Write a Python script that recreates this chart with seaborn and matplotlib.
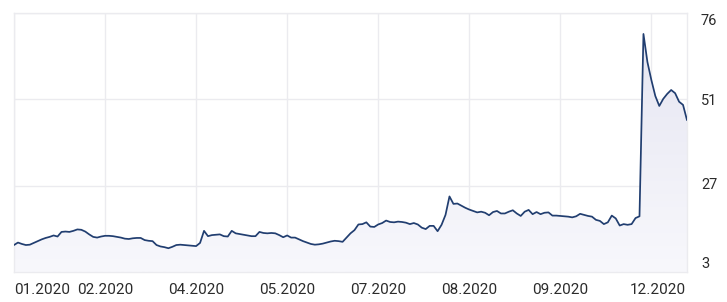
import numpy as np
import pandas as pd
import matplotlib
matplotlib.use("Agg")
import matplotlib.pyplot as plt
import seaborn as sns
from matplotlib.transforms import ScaledTranslation
from matplotlib.colors import LinearSegmentedColormap

# ---- data ----
values = [
    10.6, 11.3, 10.9, 10.6, 10.7, 11.2, 11.7, 12.2, 12.6, 12.9,
    13.3, 13.0, 14.3, 14.4, 14.3, 14.6, 15.0, 14.9, 14.4, 13.6,
    12.9, 12.7, 13.0, 13.2, 13.2, 13.1, 12.9, 12.7, 12.4, 12.3,
    12.5, 12.6, 12.6, 12.0, 11.8, 11.7, 10.6, 10.2, 10.0, 9.7,
    10.1, 10.6, 10.7, 10.6, 10.5, 10.4, 10.3, 11.2, 14.6, 13.1,
    13.4, 13.5, 13.6, 13.1, 13.0, 14.6, 13.9, 13.7, 13.5, 13.3,
    13.1, 13.1, 14.3, 14.0, 13.9, 14.0, 13.9, 13.4, 12.8, 13.3,
    12.7, 12.7, 12.2, 11.7, 11.3, 10.9, 10.7, 10.8, 11.0, 11.3,
    11.6, 11.8, 11.7, 11.5, 12.7, 13.9, 14.8, 16.4, 16.5, 17.0,
    15.8, 15.7, 16.4, 16.8, 17.5, 17.1, 17.0, 17.2, 17.1, 16.9,
    16.5, 16.8, 16.4, 15.5, 15.1, 16.0, 16.0, 14.5, 16.3, 19.1,
    24.3, 22.2, 22.3, 21.7, 21.1, 20.6, 20.2, 19.8, 20.0, 19.7,
    19.0, 19.9, 20.2, 19.5, 19.5, 20.0, 20.4, 19.5, 18.8, 20.0,
    20.5, 19.3, 19.9, 19.3, 19.7, 19.8, 18.9, 18.9, 18.8, 18.7,
    18.6, 18.4, 18.7, 19.4, 19.1, 18.8, 18.6, 17.7, 17.4, 16.5,
    17.0, 18.9, 18.1, 16.1, 16.5, 16.3, 16.5, 18.2, 18.7, 70.1,
    62.2, 57.1, 52.6, 49.8, 51.8, 53.2, 54.3, 53.4, 51.0, 50.1,
    45.8,
]
x_tick_labels = ["01.2020", "02.2020", "04.2020", "05.2020",
                 "07.2020", "08.2020", "09.2020", "12.2020"]
x_tick_step = 23
y_ticks = [3, 27.33, 51.67, 76]
y_tick_labels = ["3", "27", "51", "76"]

# ---- style ----
sns.set_theme(style="white")
plt.rcParams['font.family'] = ['Roboto', 'DejaVu Sans']

W, H = 727, 302
fig = plt.figure(figsize=(W / 100, H / 100), dpi=100)
ax = fig.add_axes([14 / W, 1 - 272 / H, (687 - 14) / W, (272 - 13) / H])

n = len(values)
df = pd.DataFrame({"i": np.arange(n), "v": values})

line_color = "#213e70"
grid_color = "#ebebef"
text_color = "#2b2b2b"

# gradient fill under the line
poly = ax.fill_between(df["i"], df["v"], y_ticks[0], color="none", lw=0)
cmap = LinearSegmentedColormap.from_list("g", ["#f8f8fc", "#e4e4f1"])
img = ax.imshow(np.linspace(1, 0, 256).reshape(-1, 1), cmap=cmap,
                extent=[0, n - 1, y_ticks[0], y_ticks[-1]], aspect="auto",
                zorder=1, interpolation="bilinear")
img.set_clip_path(poly.get_paths()[0], transform=ax.transData)

sns.lineplot(data=df, x="i", y="v", ax=ax, color=line_color,
             linewidth=1.25, zorder=3)

ax.set_xlim(0, n - 1)
ax.set_ylim(y_ticks[0], y_ticks[-1])
ax.set_xlabel("")
ax.set_ylabel("")

# x ticks
xt = [k * x_tick_step for k in range(len(x_tick_labels))]
ax.set_xticks(xt)
ax.set_xticklabels(x_tick_labels)
# y ticks on right
ax.yaxis.tick_right()
ax.set_yticks(y_ticks)
ax.set_yticklabels(y_tick_labels)

ax.tick_params(axis="x", length=0, pad=8, labelsize=11, colors=text_color)
ax.tick_params(axis="y", length=0, pad=10, labelsize=10.5, colors=text_color)

ax.grid(True, color=grid_color, linewidth=1.0, zorder=0)
ax.set_axisbelow(True)
for s in ax.spines.values():
    s.set_color(grid_color)
    s.set_linewidth(1.0)

# keep edge labels inside the plot extent
xl = ax.get_xticklabels()
xl[0].set_horizontalalignment("left")
xl[-1].set_horizontalalignment("right")
xl[-1].set_transform(xl[-1].get_transform() +
                     ScaledTranslation(35 / 100, 0, fig.dpi_scale_trans))

yl = ax.get_yticklabels()
offsets = {"76": -6.5, "51": 0, "27": 2, "3": 9}
for lab in yl:
    dy = offsets.get(lab.get_text(), 0)
    lab.set_transform(lab.get_transform() +
                      ScaledTranslation(0, dy / 100, fig.dpi_scale_trans))

fig.savefig("out.png", dpi=100)
